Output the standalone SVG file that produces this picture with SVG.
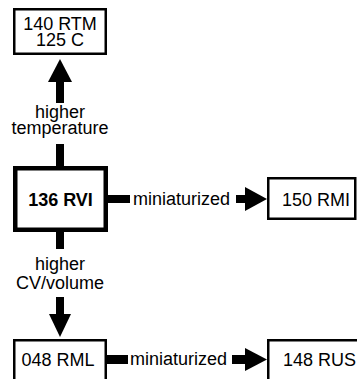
<svg xmlns="http://www.w3.org/2000/svg" width="357" height="379" viewBox="0 0 357 379">
<style>
.box{fill:#fff;stroke:#000;stroke-width:2.5}
.thick{fill:#fff;stroke:#000;stroke-width:4.5}
text{font-family:"Liberation Sans",Arial,Helvetica,sans-serif;font-size:18px;fill:#000}
.c{text-anchor:middle}
.b{font-weight:bold}
.k{fill:#000;stroke:none}
</style>
<g id="connectors">
<polygon class="k" points="60,59 48,82 72,82"/>
<rect class="k" x="56" y="82" width="8" height="21"/>
<rect class="k" x="56" y="144" width="8" height="23"/>
<text class="c" x="60" y="118">higher</text>
<text class="c" x="60" y="134">temperature</text>
<rect class="k" x="56" y="231" width="8" height="18"/>
<text class="c" x="60" y="270">higher</text>
<text class="c" x="60" y="289">CV/volume</text>
<rect class="k" x="56" y="297" width="8" height="17"/>
<polygon class="k" points="49,314 71,314 60,337"/>
<rect class="k" x="107" y="195" width="23" height="8"/>
<text x="133" y="205">miniaturized</text>
<rect class="k" x="236" y="195" width="10" height="8"/>
<polygon class="k" points="245,187 267,199 245,211"/>
<rect class="k" x="106" y="355" width="22" height="9"/>
<text x="130" y="365">miniaturized</text>
<rect class="k" x="232" y="355" width="14" height="9"/>
<polygon class="k" points="245,348 267,359.5 245,371"/>
</g>
<g id="n140">
<rect class="box" x="14.25" y="9.25" width="91.5" height="44.5"/>
<text class="c" x="60" y="30">140 RTM</text>
<text class="c" x="60" y="46">125 C</text>
</g>
<g id="n136">
<rect class="thick" x="15.25" y="168.25" width="90.5" height="61.5"/>
<text class="c b" x="60.5" y="206">136 RVI</text>
</g>
<g id="n150">
<rect class="box" x="268.25" y="178.25" width="87" height="40.5"/>
<text x="282" y="206">150 RMI</text>
</g>
<g id="n048">
<rect class="box" x="14.25" y="340.25" width="91.5" height="45"/>
<text class="c" x="58" y="366">048 RML</text>
</g>
<g id="n148">
<rect class="box" x="268.25" y="340.25" width="95" height="45"/>
<text x="283" y="366">148 RUS</text>
</g>
</svg>
